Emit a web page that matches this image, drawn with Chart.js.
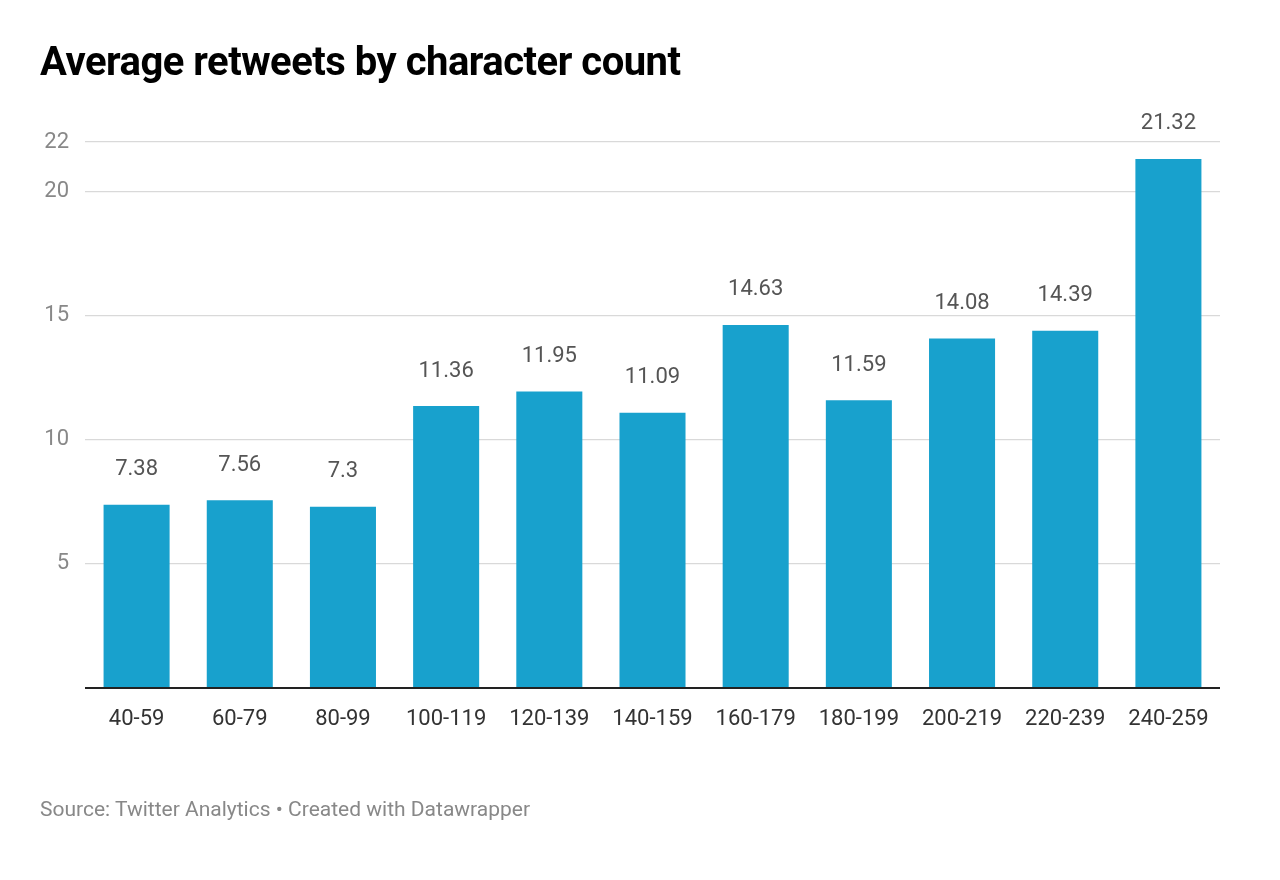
<!DOCTYPE html>
<html><head><meta charset="utf-8">
<script src="https://cdn.jsdelivr.net/npm/chart.js@4"></script>
<style>
body{margin:0;background:#fff;font-family:Roboto,sans-serif;}
#wrap{position:relative;width:1280px;height:880px;}
#title{position:absolute;left:40px;top:38px;font-size:40px;font-weight:bold;color:#000;letter-spacing:-0.5px;}
#src{position:absolute;left:40px;top:797px;font-size:21px;color:#888;}
canvas{position:absolute;left:0;top:0;}
</style></head><body>
<div id="wrap">
<canvas id="c" width="1280" height="880"></canvas>
<div id="title">Average retweets by character count</div>
<div id="src">Source: Twitter Analytics • Created with Datawrapper</div>
</div>
<script>
const categories=["40-59","60-79","80-99","100-119","120-139","140-159","160-179","180-199","200-219","220-239","240-259"];
const values=[7.38,7.56,7.3,11.36,11.95,11.09,14.63,11.59,14.08,14.39,21.32];
const labelsPlugin={id:'vl',afterDatasetsDraw(chart){const ctx=chart.ctx;const meta=chart.getDatasetMeta(0);ctx.save();ctx.font='22px Roboto';ctx.fillStyle='#555';ctx.textAlign='center';ctx.textBaseline='middle';meta.data.forEach((b,i)=>{ctx.fillText(String(values[i]),b.x,b.y-35);});ctx.restore();}};
new Chart(document.getElementById('c'),{type:'bar',
data:{labels:categories,datasets:[{data:values,backgroundColor:'#18a1cd',barPercentage:0.64,categoryPercentage:1}]},
options:{responsive:false,animation:false,layout:{padding:{top:142,right:60,left:0,bottom:0}},
plugins:{legend:{display:false},tooltip:{enabled:false}},
scales:{
x:{grid:{display:false},border:{display:false},ticks:{color:'#333',font:{size:22,family:'Roboto'},padding:10,maxRotation:0,autoSkip:false},afterFit(s){s.height=192;}},
y:{min:0,max:22,border:{display:false},grid:{color:c=>c.tick.value===0?'#222':'#d9d9d9',lineWidth:c=>c.tick.value===0?2:1.2,drawTicks:false},
ticks:{stepSize:5,color:'#888',font:{size:22,family:'Roboto'},padding:16,callback:v=>v===0?'':v},afterFit(s){s.width=85;}}
}},plugins:[labelsPlugin]});
</script></body></html>
